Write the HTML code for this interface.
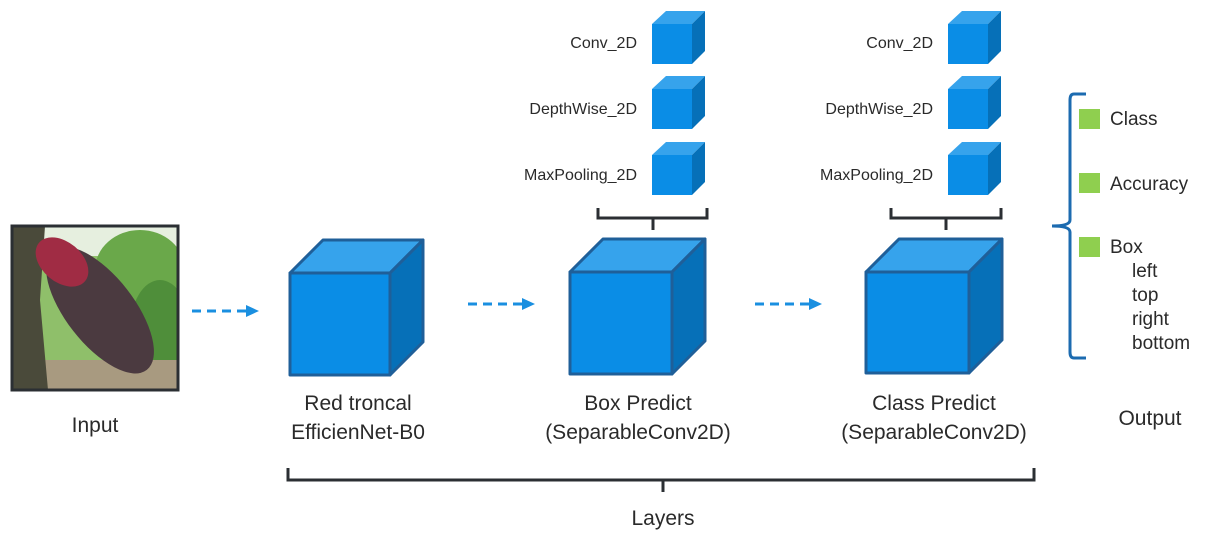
<!DOCTYPE html>
<html><head><meta charset="utf-8"><style>
html,body{margin:0;padding:0;background:#fff;}
svg{display:block;}
text{font-family:"Liberation Sans",Arial,sans-serif;fill:#2a2a2a;}
</style></head><body>
<svg width="1206" height="543" viewBox="0 0 1206 543" xmlns="http://www.w3.org/2000/svg">
<defs>
<marker id="ah" markerWidth="14" markerHeight="14" refX="6" refY="7" orient="auto" markerUnits="userSpaceOnUse">
<path d="M0,1 L13,7 L0,13 z" fill="#1a8fe0"/>
</marker>
<clipPath id="ic"><rect x="12" y="226" width="166" height="164"/></clipPath>
</defs>

<!-- input image -->
<g clip-path="url(#ic)">
<rect x="12" y="226" width="166" height="164" fill="#8fbf6a"/>
<rect x="40" y="226" width="138" height="30" fill="#e6efdf"/>
<ellipse cx="140" cy="270" rx="45" ry="40" fill="#6aa84a"/>
<ellipse cx="160" cy="330" rx="30" ry="50" fill="#4f8e3a"/>
<rect x="12" y="360" width="166" height="30" fill="#a89a80"/>
<path d="M12,226 L45,226 L40,300 L48,390 L12,390 z" fill="#4a4a3a"/>
<ellipse cx="100" cy="310" rx="76" ry="34" transform="rotate(52 100 310)" fill="#4b3a40"/>
<ellipse cx="62" cy="262" rx="30" ry="20" transform="rotate(40 62 262)" fill="#a02c44"/>
</g>
<rect x="12" y="226" width="166" height="164" fill="none" stroke="#2b2f33" stroke-width="3"/>
<text x="95" y="432" font-size="21" text-anchor="middle">Input</text>

<!-- arrows -->
<g stroke="#1a8fe0" stroke-width="3" stroke-dasharray="9,6" fill="none">
<line x1="192" y1="311" x2="252" y2="311" marker-end="url(#ah)"/>
<line x1="468" y1="304" x2="528" y2="304" marker-end="url(#ah)"/>
<line x1="755" y1="304" x2="815" y2="304" marker-end="url(#ah)"/>
</g>

<!-- big cubes -->
<g stroke="#1f5f99" stroke-width="3" stroke-linejoin="round">
<g>
<polygon points="290,273 323,240 423,240 390,273" fill="#36a3ec"/>
<polygon points="390,273 423,240 423,342 390,375" fill="#0670b8"/>
<rect x="290" y="273" width="100" height="102" fill="#0a8de6"/>
</g>
<g>
<polygon points="570,272 603,239 705,239 672,272" fill="#36a3ec"/>
<polygon points="672,272 705,239 705,341 672,374" fill="#0670b8"/>
<rect x="570" y="272" width="102" height="102" fill="#0a8de6"/>
</g>
<g>
<polygon points="866,272 899,239 1002,239 969,272" fill="#36a3ec"/>
<polygon points="969,272 1002,239 1002,340 969,373" fill="#0670b8"/>
<rect x="866" y="272" width="103" height="101" fill="#0a8de6"/>
</g>
</g>

<!-- small cubes -->
<g>
<g id="sc">
<polygon points="652,24 666,11 705,11 692,24" fill="#36a3ec"/>
<polygon points="692,24 705,11 705,51 692,64" fill="#0670b8"/>
<rect x="652" y="24" width="40" height="40" fill="#0a8de6"/>
</g>
<use href="#sc" y="65"/>
<use href="#sc" y="131"/>
<use href="#sc" x="296"/>
<use href="#sc" x="296" y="65"/>
<use href="#sc" x="296" y="131"/>
</g>
<g text-anchor="end">
<text x="637" y="48" style="font-size:16px">Conv_2D</text>
<text x="637" y="114" style="font-size:16px">DepthWise_2D</text>
<text x="637" y="180" style="font-size:16px">MaxPooling_2D</text>
<text x="933" y="48" style="font-size:16px">Conv_2D</text>
<text x="933" y="114" style="font-size:16px">DepthWise_2D</text>
<text x="933" y="180" style="font-size:16px">MaxPooling_2D</text>
</g>

<!-- brackets -->
<g stroke="#2b2f33" stroke-width="3" fill="none">
<path d="M598,208 L598,218 L707,218 L707,208 M653,218 L653,230"/>
<path d="M891,208 L891,218 L1001,218 L1001,208 M946,218 L946,230"/>
<path d="M288,468 L288,480 L1034,480 L1034,468 M663,480 L663,492"/>
</g>
<path d="M1086,94 L1074,94 Q1070,94 1070,100 L1070,220 Q1070,226 1052,226 Q1070,226 1070,232 L1070,352 Q1070,358 1074,358 L1086,358" stroke="#1c6bb0" stroke-width="3" fill="none"/>

<!-- labels -->
<g font-size="21" text-anchor="middle">
<text x="358" y="410">Red troncal</text>
<text x="358" y="439">EfficienNet-B0</text>
<text x="638" y="410">Box Predict</text>
<text x="638" y="439">(SeparableConv2D)</text>
<text x="934" y="410">Class Predict</text>
<text x="934" y="439">(SeparableConv2D)</text>
<text x="663" y="525">Layers</text>
<text x="1150" y="425">Output</text>
</g>

<!-- output -->
<g fill="#8fcf4f">
<rect x="1079" y="109" width="21" height="20"/>
<rect x="1079" y="173" width="21" height="20"/>
<rect x="1079" y="237" width="21" height="20"/>
</g>
<g font-size="19">
<text x="1110" y="125">Class</text>
<text x="1110" y="190">Accuracy</text>
<text x="1110" y="253">Box</text>
<text x="1132" y="277">left</text>
<text x="1132" y="301">top</text>
<text x="1132" y="325">right</text>
<text x="1132" y="349">bottom</text>
</g>
</svg>
</body></html>
